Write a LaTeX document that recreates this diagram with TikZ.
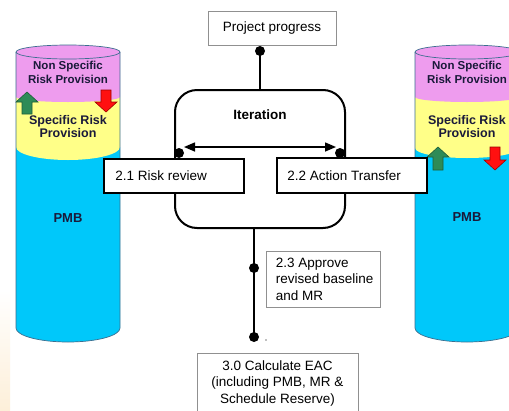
\documentclass[tikz,border=0pt]{standalone}
\usepackage{fontspec}
\setmainfont{Liberation Sans}
\usetikzlibrary{arrows.meta}
\definecolor{pinkc}{HTML}{EE9CEE}
\definecolor{yelc}{HTML}{FFFF88}
\definecolor{cyanc}{HTML}{00C8FA}
\definecolor{cylline}{HTML}{3B6E8F}
\definecolor{greenc}{HTML}{2E8B57}
\definecolor{greendark}{HTML}{1E5E3A}
\definecolor{redc}{HTML}{FF1010}
\definecolor{reddark}{HTML}{A00000}
\definecolor{grayline}{HTML}{909090}
\definecolor{txtc}{HTML}{1A1A3A}
\definecolor{beige}{HTML}{FDEFD9}
\newcommand\blkup[3]{%
  \filldraw[fill=greenc, draw=greendark, line width=0.6pt] (#1,#2) -- (#1+11,#2+10) -- (#1+5,#2+10) -- (#1+5,#3) -- (#1-5,#3) -- (#1-5,#2+10) -- (#1-11,#2+10) -- cycle;}
\newcommand\blkdown[3]{%
  \filldraw[fill=redc, draw=reddark, line width=0.6pt] (#1-5,#2) -- (#1+5,#2) -- (#1+5,#3-10) -- (#1+11,#3-10) -- (#1,#3) -- (#1-11,#3-10) -- (#1-5,#3-10) -- cycle;}
\newcommand\mycyl[3]{% cx, yellow-bottom edge y, yellow-bottom ry
  \fill[cyanc] (#1-52,#2) -- (#1-52,328) arc[start angle=180,end angle=360,x radius=52pt,y radius=14pt] -- (#1+52,#2) -- cycle;
  \fill[yelc] (#1-52,97) -- (#1-52,#2) arc[start angle=180,end angle=360,x radius=52pt,y radius=#3pt] -- (#1+52,97) -- cycle;
  \fill[pinkc] (#1-52,52) -- (#1-52,97) arc[start angle=180,end angle=360,x radius=52pt,y radius=5pt] -- (#1+52,52) -- cycle;
  \draw[cylline, line width=0.7pt] (#1-52,52) -- (#1-52,328) arc[start angle=180,end angle=360,x radius=52pt,y radius=14pt] -- (#1+52,52);
  \filldraw[fill=pinkc, draw=cylline, line width=0.7pt] (#1,52) ellipse [x radius=52pt, y radius=7pt];}
\begin{document}
\begin{tikzpicture}[x=1pt,y=-1pt,
  graybox/.style={draw=grayline, line width=0.8pt, fill=white},
  blackbox/.style={draw=black, line width=1.6pt, fill=white},
  lbl/.style={font=\fontsize{13.5}{16.5}\selectfont, inner sep=0pt},
  cyltxt/.style={font=\bfseries\fontsize{11.5}{14}\selectfont, text=txtc, align=center, inner sep=0pt},
  cyltxtb/.style={font=\bfseries\fontsize{12.5}{13.5}\selectfont, text=txtc, align=center, inner sep=0pt},
  pmbtxt/.style={font=\bfseries\fontsize{13}{15}\selectfont, text=txtc, inner sep=0pt},
  conn/.style={draw=black, line width=2pt}]
\useasboundingbox (0,0) rectangle (509,410);
\clip (0,0) rectangle (509,410);
\fill[white] (0,0) rectangle (509,410);
\shade[top color=white, bottom color=beige] (0,290) rectangle (10,410);

% cylinders
\mycyl{68}{147}{13}
\mycyl{467}{148}{10}
\node[cyltxt] (lns) at (68,72.5) {Non Specific\\Risk Provision};
\node[cyltxtb] (lsr) at (68,126.5) {Specific Risk\\Provision};
\node[pmbtxt] (lpmb) at (68,218) {PMB};
\node[cyltxt] (rns) at (467,72.5) {Non Specific\\Risk Provision};
\node[cyltxtb] (rsr) at (467,126.5) {Specific Risk\\Provision};
\node[pmbtxt] (rpmb) at (467,217) {PMB};
\blkup{27}{92}{114}
\blkdown{106}{90}{112}
\blkup{438}{147}{170}
\blkdown{495}{147}{170}

% iteration loop
\node[draw=black, line width=2pt, rounded corners=22pt, minimum width=170pt, minimum height=138pt, inner sep=0pt] (iter) at (260,159) {};
\node[font=\bfseries\fontsize{13.5}{16}\selectfont, inner sep=0pt] (itlbl) at (260,115) {Iteration};

\node[graybox, minimum width=128pt, minimum height=34pt, inner sep=0pt, lbl] (pp) at (272,28) {Project progress};
\coordinate (d0) at (260,51);
\draw[conn] (d0) -- (iter.north);
\fill (d0) circle (5pt);

\coordinate (dl) at (179,153);
\coordinate (dr) at (340,153);
\coordinate (al) at (184,147);
\coordinate (ar) at (336,147);
\draw[line width=1.5pt, {Triangle[length=11pt,width=9pt]}-{Triangle[length=11pt,width=9pt]}] (al) -- (ar);

\node[blackbox, minimum width=140pt, minimum height=34pt, inner sep=0pt] (b21) at (174,176) {};
\node[lbl, anchor=west] (t21) at ([xshift=12pt]b21.west) {2.1 Risk review};
\node[blackbox, minimum width=150pt, minimum height=35pt, inner sep=0pt] (b22) at (352,175.5) {};
\node[lbl, anchor=west] (t22) at ([xshift=11pt]b22.west) {2.2 Action Transfer};
\fill (dl) circle (5pt);
\fill (dr) circle (5pt);

% lower chain
\coordinate (d3) at (254,268);
\coordinate (d4) at (254,337);
\draw[conn] (iter.south -| d3) -- (d4);
\fill (d3) circle (5pt);
\fill (d4) circle (5pt);
\fill[gray] (266,340) circle (0.8pt);

\node[graybox, minimum width=114pt, minimum height=56pt, inner sep=0pt] (b23) at (323,279) {};
\node[lbl, anchor=west, align=left] (t23) at ([xshift=10pt]b23.west) {2.3 Approve\\revised baseline\\and MR};

\node[graybox, minimum width=161pt, minimum height=64pt, inner sep=0pt] (b30) at (277.5,385) {};
\node[lbl, align=center] (t30) at (277.5,383.5) {3.0 Calculate EAC\\(including PMB, MR \&\\Schedule Reserve)};
\end{tikzpicture}
\end{document}
